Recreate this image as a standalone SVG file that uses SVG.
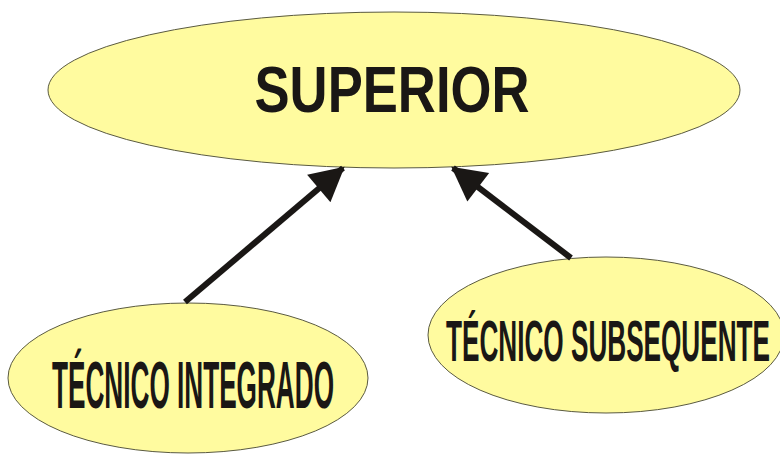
<svg xmlns="http://www.w3.org/2000/svg" width="780" height="454" viewBox="0 0 780 454">
<style>
.node{fill:#FFFB9F;stroke:#5a5a40;stroke-width:1}
.lbl{font-family:"Liberation Sans",Arial,sans-serif;font-weight:bold;fill:#1a1715}
.conn{stroke:#1a1715;stroke-width:6;fill:none}
</style>
<defs>
<marker id="ah" markerUnits="userSpaceOnUse" markerWidth="36" markerHeight="36" viewBox="0 0 32 34" refX="30" refY="17" orient="auto">
<path d="M0,0 L32,17 L0,34 Z" fill="#1a1715"/>
</marker>
</defs>
<rect width="780" height="454" fill="#ffffff"/>
<g id="superior">
<ellipse class="node" cx="394" cy="90" rx="346" ry="78"/>
<text class="lbl" x="392" y="112" font-size="65" text-anchor="middle" textLength="275" lengthAdjust="spacingAndGlyphs">SUPERIOR</text>
</g>
<g id="integrado">
<ellipse class="node" cx="188" cy="378" rx="180" ry="75"/>
<text class="lbl" x="193" y="408" font-size="66" text-anchor="middle" textLength="282" lengthAdjust="spacingAndGlyphs">TÉCNICO INTEGRADO</text>
</g>
<g id="subsequente">
<ellipse class="node" cx="606" cy="335" rx="178" ry="78"/>
<text class="lbl" x="608" y="361" font-size="58" text-anchor="middle" textLength="324" lengthAdjust="spacingAndGlyphs">TÉCNICO SUBSEQUENTE</text>
</g>
<g id="connectors">
<line class="conn" x1="185" y1="302" x2="343" y2="168" marker-end="url(#ah)"/>
<line class="conn" x1="571" y1="258" x2="453" y2="168" marker-end="url(#ah)"/>
</g>
</svg>
